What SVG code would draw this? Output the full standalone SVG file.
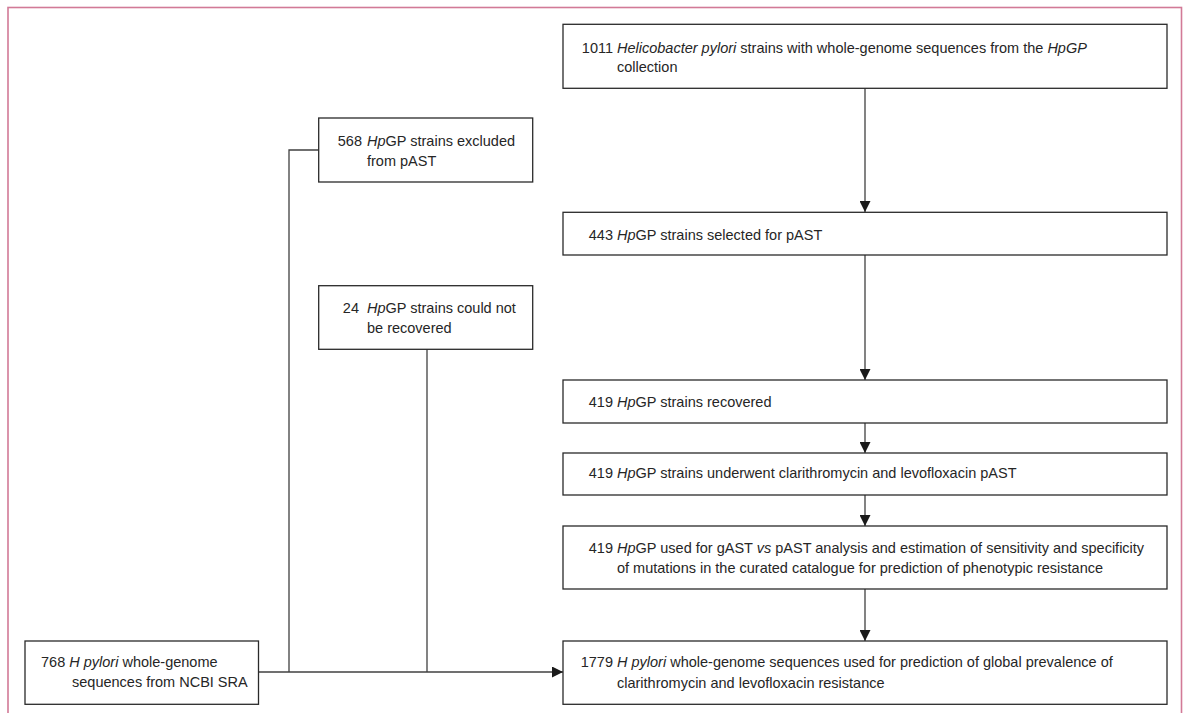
<svg xmlns="http://www.w3.org/2000/svg" width="1187" height="713" viewBox="0 0 1187 713">
<style>
.frame{fill:none;stroke:#d27a97;stroke-width:1.6}
.box{fill:#fff;stroke:#2a2a2a;stroke-width:1.3}
.con{fill:none;stroke:#404040;stroke-width:1.3}
text{font-family:"Liberation Sans",Arial,sans-serif;font-size:14.5px;fill:#262626}
.n{text-anchor:end}
.i{font-style:italic}
</style>
<defs>
<marker id="ah" viewBox="0 0 10 10" refX="10" refY="5" markerWidth="11" markerHeight="11" markerUnits="userSpaceOnUse" orient="auto">
<path d="M0,0 L10,5 L0,10 Z" fill="#1a1a1a"/>
</marker>
</defs>
<rect class="frame" x="8" y="7.5" width="1173.5" height="720"/>
<g id="connectors">
<line class="con" x1="865" y1="88" x2="865" y2="212" marker-end="url(#ah)"/>
<line class="con" x1="865" y1="255" x2="865" y2="380" marker-end="url(#ah)"/>
<line class="con" x1="865" y1="423" x2="865" y2="453" marker-end="url(#ah)"/>
<line class="con" x1="865" y1="495" x2="865" y2="526" marker-end="url(#ah)"/>
<line class="con" x1="865" y1="589" x2="865" y2="641" marker-end="url(#ah)"/>
<line class="con" x1="258.5" y1="672" x2="563" y2="672" marker-end="url(#ah)"/>
<polyline class="con" points="318.7,150 289,150 289,672"/>
<line class="con" x1="427" y1="349.3" x2="427" y2="672"/>
</g>
<g id="n1011">
<rect class="box" x="563" y="24.3" width="604" height="64"/>
<text class="n" x="613" y="53">1011</text>
<text x="617" y="53"><tspan class="i">Helicobacter pylori</tspan> strains with whole-genome sequences from the <tspan class="i">HpGP</tspan></text>
<text x="617" y="72">collection</text>
</g>
<g id="n568">
<rect class="box" x="318.7" y="118" width="214" height="64"/>
<text class="n" x="362" y="146">568</text>
<text x="367" y="146"><tspan class="i">Hp</tspan>GP strains excluded</text>
<text x="367" y="166">from pAST</text>
</g>
<g id="n443">
<rect class="box" x="563" y="212.3" width="604" height="42.7"/>
<text class="n" x="613" y="240">443</text>
<text x="617" y="240"><tspan class="i">Hp</tspan>GP strains selected for pAST</text>
</g>
<g id="n24">
<rect class="box" x="318.7" y="285.7" width="214" height="63.6"/>
<text class="n" x="359" y="313">24</text>
<text x="367" y="313"><tspan class="i">Hp</tspan>GP strains could not</text>
<text x="367" y="333">be recovered</text>
</g>
<g id="n419rec">
<rect class="box" x="563" y="380" width="604" height="43"/>
<text class="n" x="613" y="407">419</text>
<text x="617" y="407"><tspan class="i">Hp</tspan>GP strains recovered</text>
</g>
<g id="n419pAST">
<rect class="box" x="563" y="453" width="604" height="42"/>
<text class="n" x="613" y="478">419</text>
<text x="617" y="478"><tspan class="i">Hp</tspan>GP strains underwent clarithromycin and levofloxacin pAST</text>
</g>
<g id="n419gAST">
<rect class="box" x="563" y="526" width="604" height="63"/>
<text class="n" x="613" y="553">419</text>
<text x="617" y="553"><tspan class="i">Hp</tspan>GP used for gAST <tspan class="i">vs</tspan> pAST analysis and estimation of sensitivity and specificity</text>
<text x="617" y="573">of mutations in the curated catalogue for prediction of phenotypic resistance</text>
</g>
<g id="n768">
<rect class="box" x="25" y="641" width="233.5" height="63.3"/>
<text x="41" y="667">768 <tspan class="i">H pylori</tspan> whole-genome</text>
<text x="72" y="687">sequences from NCBI SRA</text>
</g>
<g id="n1779">
<rect class="box" x="563" y="641" width="604" height="63.3"/>
<text class="n" x="613" y="667">1779</text>
<text x="617" y="667"><tspan class="i">H pylori</tspan> whole-genome sequences used for prediction of global prevalence of</text>
<text x="617" y="688">clarithromycin and levofloxacin resistance</text>
</g>
</svg>
